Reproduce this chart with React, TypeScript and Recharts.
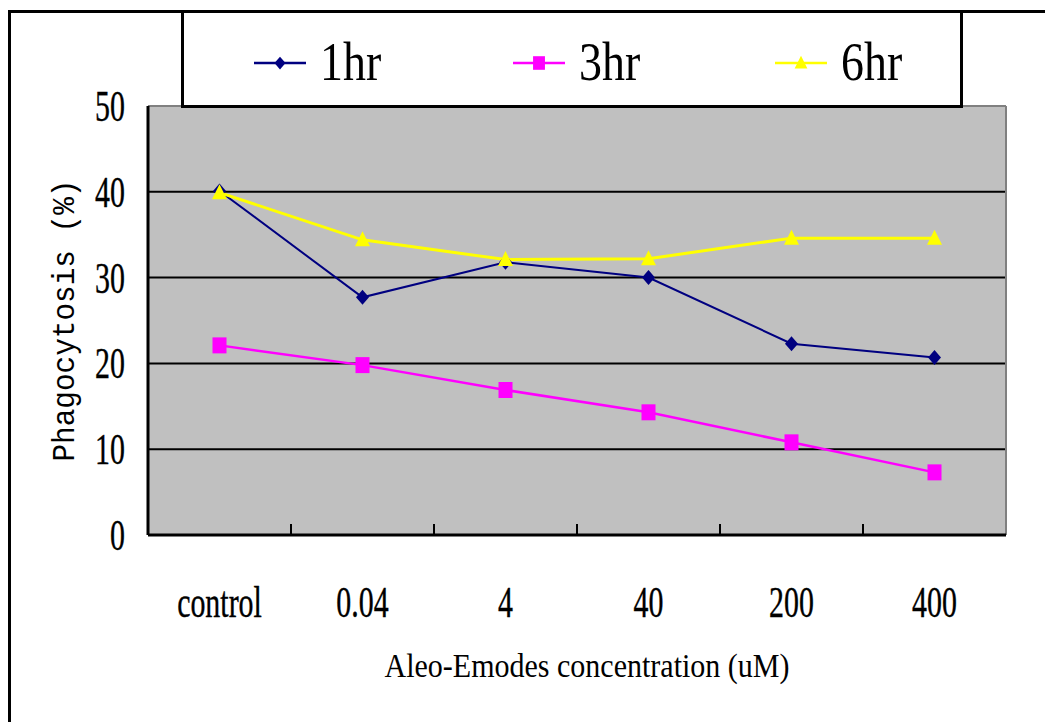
import React from 'react';
import {
  LineChart,
  Line,
  XAxis,
  YAxis,
  CartesianGrid,
  ReferenceLine,
  Legend,
} from 'recharts';

// Categories on the x axis (Aloe-Emodin dose)
const concentrations = ['control', '0.04', '4', '40', '200', '400'];

// Phagocytosis (%) per incubation time
const oneHour = [40.1, 27.7, 31.8, 30.0, 22.3, 20.7];
const threeHour = [22.1, 19.8, 16.9, 14.3, 10.8, 7.3];
const sixHour = [39.9, 34.4, 32.1, 32.2, 34.6, 34.6];

const yTicks = [0, 10, 20, 30, 40, 50];

type Shape = 'diamond' | 'square' | 'triangle';

const series: { key: string; name: string; color: string; shape: Shape; width: number }[] = [
  { key: 'h1', name: '1hr', color: '#000080', shape: 'diamond', width: 2 },
  { key: 'h3', name: '3hr', color: '#FF00FF', shape: 'square', width: 2.5 },
  { key: 'h6', name: '6hr', color: '#FFFF00', shape: 'triangle', width: 3 },
];

// Each category sits in the middle of a unit-wide slot; tick marks go on the slot edges
const data = concentrations.map((label, i) => ({
  pos: i + 0.5,
  label,
  h1: oneHour[i],
  h3: threeHour[i],
  h6: sixHour[i],
}));
const labelTicks = concentrations.map((_, i) => i + 0.5);
const boundaryTicks = concentrations.slice(1).map((_, i) => i + 1);
const xTicks = [...labelTicks, ...boundaryTicks].sort((a, b) => a - b);

const SERIF = '"Liberation Serif", "Times New Roman", serif';
const MONO = '"Liberation Mono", "DejaVu Sans Mono", monospace';

function markerPath(shape: Shape, cx: number, cy: number, k = 1): string {
  if (shape === 'diamond') {
    return `M${cx},${cy - 7.5 * k}L${cx + 6.5 * k},${cy}L${cx},${cy + 7.5 * k}L${cx - 6.5 * k},${cy}Z`;
  }
  if (shape === 'square') {
    return `M${cx - 7 * k},${cy - 8 * k}h${14 * k}v${16 * k}h${-14 * k}Z`;
  }
  return `M${cx},${cy - 8.5 * k}L${cx + 7.5 * k},${cy + 6.5 * k}L${cx - 7.5 * k},${cy + 6.5 * k}Z`;
}

function XTick(props: any) {
  const { x, y, payload } = props;
  const v = payload.value as number;
  if (Number.isInteger(v)) {
    return <line x1={x} y1={y} x2={x} y2={y - 11} stroke="#000" strokeWidth={2} />;
  }
  const label = concentrations[Math.floor(v)];
  return (
    <text
      transform={`translate(${x},${y + 82}) scale(0.68,1)`}
      textAnchor="middle"
      fontFamily={SERIF}
      fontSize={44}
      fill="#000"
      stroke="#000"
      strokeWidth={0.4}
    >
      {label}
    </text>
  );
}

function YTick(props: any) {
  const { x, y, payload } = props;
  return (
    <text
      transform={`translate(${x - 23},${y + 15}) scale(0.68,1)`}
      textAnchor="end"
      fontFamily={SERIF}
      fontSize={44}
      fill="#000"
      stroke="#000"
      strokeWidth={0.4}
    >
      {payload.value}
    </text>
  );
}

const legendSlotX = [73, 332, 594];

function LegendBox(props: any) {
  const payload = props.payload || [];
  return (
    <svg width={782} height={98} style={{ display: 'block' }}>
      <rect x={1.5} y={1.5} width={779} height={95} fill="#fff" stroke="#000" strokeWidth={3} />
      {payload.map((entry: any, i: number) => {
        const s = series.find((d) => d.key === entry.dataKey) || series[i];
        const x0 = legendSlotX[i];
        return (
          <g key={s.key}>
            <line x1={x0} y1={53} x2={x0 + 52} y2={53} stroke={s.color} strokeWidth={2.5} />
            <path d={markerPath(s.shape, x0 + 26, 53, 0.85)} fill={s.color} />
            <text
              transform={`translate(${x0 + 66},70) scale(0.85,1)`}
              fontFamily={SERIF}
              fontSize={54}
              fill="#000"
            >
              {s.name}
            </text>
          </g>
        );
      })}
    </svg>
  );
}

export default function App() {
  return (
    <div style={{ position: 'relative', top: 2, width: 1045, height: 714 }}>
      <div
        style={{
          position: 'absolute',
          left: 0,
          top: 0,
          width: 1045,
          height: 714,
          borderLeft: '3px solid #000',
          borderTop: '3px solid #000',
          boxSizing: 'border-box',
        }}
      />
      <LineChart
        width={1045}
        height={714}
        data={data}
        margin={{ top: 96, right: 47, bottom: 0, left: 0 }}
      >
        <CartesianGrid
          vertical={false}
          stroke="#000"
          strokeWidth={2}
          fill="#C0C0C0"
          fillOpacity={1}
        />
        <XAxis
          dataKey="pos"
          type="number"
          domain={[0, concentrations.length]}
          ticks={xTicks}
          interval={0}
          height={189}
          tickSize={0}
          tickMargin={0}
          tickLine={false}
          axisLine={{ stroke: '#000', strokeWidth: 3 }}
          tick={<XTick />}
          label={{
            content: (p: any) => {
              const vb = p.viewBox || { x: 140, y: 525, width: 858, height: 189 };
              return (
                <text
                  x={vb.x + vb.width / 2 + 10}
                  y={vb.y + 142}
                  textAnchor="middle"
                  fontFamily={SERIF}
                  fontSize={34}
                  textLength={405}
                  lengthAdjust="spacingAndGlyphs"
                  fill="#000"
                >
                  Aleo-Emodes concentration (uM)
                </text>
              );
            },
          }}
        />
        <YAxis
          type="number"
          domain={[0, 50]}
          ticks={yTicks}
          interval={0}
          width={140}
          tickSize={0}
          tickMargin={0}
          tickLine={false}
          axisLine={{ stroke: '#000', strokeWidth: 3 }}
          tick={<YTick />}
          label={{
            content: (p: any) => {
              const vb = p.viewBox || { x: 0, y: 96, width: 140, height: 429 };
              const cx = vb.x + 57;
              const cy = vb.y + vb.height / 2;
              return (
                <text
                  transform={`translate(${cx},${cy}) rotate(-90)`}
                  textAnchor="middle"
                  dominantBaseline="central"
                  fontFamily={MONO}
                  fontSize={32}
                  textLength={282}
                  lengthAdjust="spacingAndGlyphs"
                  fill="#000"
                >
                  Phagocytosis (%)
                </text>
              );
            },
          }}
        />
        <ReferenceLine y={50} stroke="#808080" strokeWidth={2} />
        <ReferenceLine x={concentrations.length} stroke="#808080" strokeWidth={2} />
        {series.map((s) => (
          <Line
            key={s.key}
            dataKey={s.key}
            name={s.name}
            stroke={s.color}
            strokeWidth={s.width}
            isAnimationActive={false}
            activeDot={false}
            dot={(p: any) => (
              <path key={`${s.key}-${p.index}`} d={markerPath(s.shape, p.cx, p.cy)} fill={s.color} />
            )}
          />
        ))}
        <Legend
          layout="vertical"
          align="center"
          verticalAlign="middle"
          wrapperStyle={{ left: 173, top: 0, width: 782, height: 98 }}
          content={<LegendBox />}
        />
      </LineChart>
    </div>
  );
}
